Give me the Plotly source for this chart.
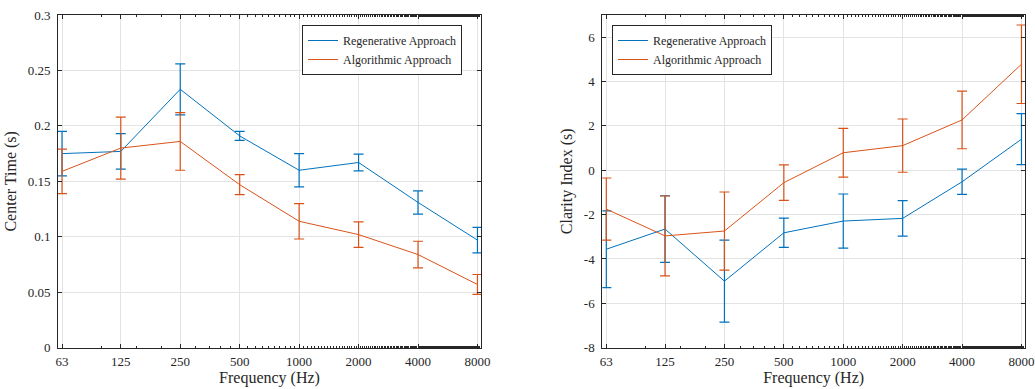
import plotly.graph_objects as go

freqs = [63, 125, 250, 500, 1000, 2000, 4000, 8000]
freq_labels = ["63", "125", "250", "500", "1000", "2000", "4000", "8000"]

# Centre time (s)
ct_regen = [0.175, 0.177, 0.233, 0.191, 0.160, 0.167, 0.131, 0.097]
ct_regen_err = [0.020, 0.016, 0.023, 0.004, 0.015, 0.0075, 0.0105, 0.0115]
ct_algo = [0.159, 0.180, 0.186, 0.147, 0.114, 0.102, 0.084, 0.057]
ct_algo_err = [0.020, 0.028, 0.026, 0.009, 0.016, 0.0115, 0.012, 0.009]

# Clarity index
ci_regen = [-3.56, -2.65, -5.0, -2.82, -2.29, -2.17, -0.52, 1.40]
ci_regen_err = [1.73, 1.5, 1.85, 0.66, 1.22, 0.8, 0.57, 1.15]
ci_algo = [-1.75, -2.96, -2.74, -0.56, 0.79, 1.11, 2.27, 4.78]
ci_algo_err = [1.4, 1.8, 1.76, 0.8, 1.1, 1.2, 1.3, 1.77]

BLUE = "#0072BD"
ORANGE = "#D95319"
FONT = "Liberation Serif"
INK = "#262626"

fig = go.Figure()


def add(x, y, err, color, name, xa, ya, legend):
    fig.add_trace(go.Scatter(
        x=x, y=y, mode="lines", name=name,
        line=dict(color=color, width=1),
        error_y=dict(type="data", array=err, visible=True, color=color,
                     thickness=1.2, width=5),
        xaxis=xa, yaxis=ya, legend=legend,
    ))


add(freqs, ct_regen, ct_regen_err, BLUE, "Regenerative Approach", "x", "y", "legend")
add(freqs, ct_algo, ct_algo_err, ORANGE, "Algorithmic Approach", "x", "y", "legend")
add(freqs, ci_regen, ci_regen_err, BLUE, "Regenerative Approach", "x2", "y2", "legend2")
add(freqs, ci_algo, ci_algo_err, ORANGE, "Algorithmic Approach", "x2", "y2", "legend2")

W, H = 1035, 389
ydom = [1 - 347.7 / H, 1 - 15 / H]

xcommon = dict(
    type="log", range=[1.779, 3.921], tickvals=freqs, ticktext=freq_labels,
    showgrid=True, gridcolor="#e3e3e3", gridwidth=1,
    showline=True, linecolor=INK, linewidth=1, mirror="allticks",
    ticks="inside", ticklen=4, tickcolor=INK,
    minor=dict(ticks="inside", ticklen=2, tickcolor=INK, showgrid=False),
    tickfont=dict(family=FONT, size=13, color=INK),
    ticklabelstandoff=2,
    title=dict(text="Frequency (Hz)", font=dict(family=FONT, size=16, color=INK), standoff=1),
    zeroline=False, automargin=False,
)
ycommon = dict(
    showgrid=True, gridcolor="#e3e3e3", gridwidth=1,
    showline=True, linecolor=INK, linewidth=1, mirror="allticks",
    ticks="inside", ticklen=4, tickcolor=INK,
    tickfont=dict(family=FONT, size=13, color=INK),
    ticklabelstandoff=4,
    zeroline=False, automargin=False,
)

legcommon = dict(
    bgcolor="white", bordercolor=INK, borderwidth=1,
    font=dict(family=FONT, size=12, color=INK),
    xanchor="left", yanchor="top", tracegroupgap=0, itemwidth=30,
)

fig.update_layout(
    width=W, height=H,
    margin=dict(l=0, r=0, t=0, b=0),
    paper_bgcolor="white", plot_bgcolor="white",
    xaxis=dict(xcommon, domain=[58 / W, 481 / W], anchor="y"),
    yaxis=dict(ycommon, domain=ydom, anchor="x", range=[0, 0.3],
               tickvals=[0, 0.05, 0.1, 0.15, 0.2, 0.25, 0.3],
               ticktext=["0", "0.05", "0.1", "0.15", "0.2", "0.25", "0.3"],
               title=dict(text="Center Time (s)", font=dict(family=FONT, size=16, color=INK), standoff=7)),
    xaxis2=dict(xcommon, domain=[602.3 / W, 1025 / W], anchor="y2"),
    yaxis2=dict(ycommon, domain=ydom, anchor="x2", range=[-8, 7],
                tickvals=[-8, -6, -4, -2, 0, 2, 4, 6],
                ticktext=["-8", "-6", "-4", "-2", "0", "2", "4", "6"],
                title=dict(text="Clarity Index (s)", font=dict(family=FONT, size=16, color=INK), standoff=7)),
    legend=dict(legcommon, x=302 / W, y=1 - 25 / H),
    legend2=dict(legcommon, x=612 / W, y=1 - 25 / H),
    showlegend=True,
)

fig.write_html(
    "out.html",
    config={"displayModeBar": False},
    post_script="document.body.style.margin='0';document.body.style.overflow='hidden';",
)
